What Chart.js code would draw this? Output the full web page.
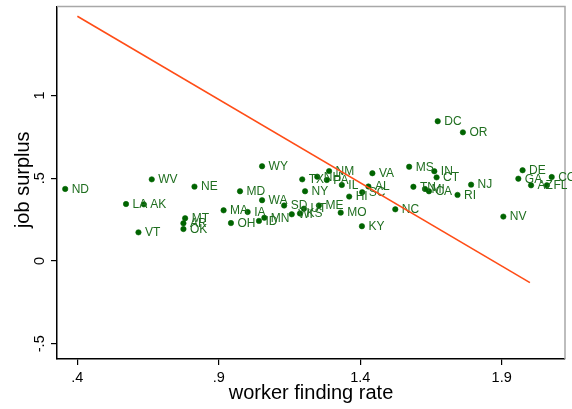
<!DOCTYPE html>
<html><head><meta charset="utf-8">
<script src="https://cdn.jsdelivr.net/npm/chart.js@4.4.0/dist/chart.umd.min.js"></script>
<style>html,body{margin:0;padding:0;background:#fff;}#wrap{width:572px;height:409px;}</style>
</head><body><div id="wrap"><canvas id="c" width="572" height="409"></canvas></div>
<script>
const states  = ['ND','WV','NE','LA','AK','VT','MT','AR','OK','MA','OH','WY','MD','WA','IA','ID','MN','SD','WI','KS','UT','ME','MO','TX','NH','PA','NM','IL','NY','HI','KY','SC','AL','VA','DC','OR','MS','IN','CT','TN','MI','CA','RI','NJ','NC','NV','DE','GA','CO','AZ','FL'];
const finding = [0.357,0.663,0.814,0.572,0.635,0.616,0.781,0.775,0.775,0.917,0.943,1.053,0.975,1.053,1.002,1.042,1.061,1.131,1.158,1.187,1.201,1.254,1.331,1.195,1.248,1.282,1.290,1.335,1.205,1.361,1.406,1.407,1.429,1.443,1.674,1.763,1.573,1.662,1.670,1.588,1.629,1.643,1.744,1.792,1.524,1.906,1.974,1.959,2.077,2.004,2.060];
const surplus = [0.435,0.493,0.449,0.344,0.342,0.173,0.258,0.228,0.193,0.306,0.229,0.572,0.421,0.367,0.296,0.242,0.261,0.335,0.282,0.287,0.316,0.335,0.292,0.493,0.509,0.489,0.543,0.459,0.421,0.389,0.210,0.415,0.450,0.530,0.844,0.777,0.569,0.542,0.505,0.448,0.435,0.421,0.399,0.461,0.312,0.268,0.548,0.497,0.507,0.457,0.457];
const fitX = [0.4, 2.0];
const fitY = [1.478, -0.131];
const xTicks = [0.4, 0.9, 1.4, 1.9];
const xTickLabels = ['.4', '.9', '1.4', '1.9'];
const yTicks = [-0.5, 0, 0.5, 1];
const yTickLabels = ['-.5', '0', '.5', '1'];
const xTitle = 'worker finding rate';
const yTitle = 'job surplus';

const FONT = '"Liberation Sans", Arial, Helvetica, sans-serif';
const dotColor = '#006400';
const labelColor = '#1f6e1f';

const textPlugin = {
  id: 'texts',
  beforeDatasetsDraw(chart) {
    const ctx = chart.ctx, a = chart.chartArea;
    ctx.save();
    ctx.strokeStyle = '#a8a8a8';
    ctx.lineWidth = 1.5;
    ctx.beginPath();
    ctx.moveTo(a.left, a.top);
    ctx.lineTo(a.right, a.top);
    ctx.lineTo(a.right, a.bottom);
    ctx.stroke();
    ctx.restore();
  },
  afterDatasetDraw(chart, args) {
    if (args.index !== 0) return;
    const ctx = chart.ctx;
    ctx.save();
    ctx.font = '12px ' + FONT;
    ctx.fillStyle = labelColor;
    ctx.textAlign = 'left';
    ctx.textBaseline = 'middle';
    args.meta.data.forEach((pt, i) => ctx.fillText(states[i], pt.x + 6.5, pt.y + 0.5));
    ctx.restore();
  },
  afterDraw(chart) {
    const ctx = chart.ctx, a = chart.chartArea;
    const xs = chart.scales.x, ys = chart.scales.y;
    ctx.save();
    ctx.fillStyle = '#000';
    ctx.font = '14.5px ' + FONT;
    ctx.textAlign = 'center';
    ctx.textBaseline = 'alphabetic';
    xTicks.forEach((v, i) => ctx.fillText(xTickLabels[i], xs.getPixelForValue(v), 382));
    yTicks.forEach((v, i) => {
      ctx.save();
      ctx.translate(44, ys.getPixelForValue(v));
      ctx.rotate(-Math.PI / 2);
      ctx.fillText(yTickLabels[i], 0, 0);
      ctx.restore();
    });
    ctx.font = '20px ' + FONT;
    ctx.fillText(xTitle, (a.left + a.right) / 2, 399);
    ctx.save();
    ctx.translate(29, (a.top + a.bottom) / 2 - 3);
    ctx.rotate(-Math.PI / 2);
    ctx.fillText(yTitle, 0, 0);
    ctx.restore();
    ctx.restore();
  }
};

new Chart(document.getElementById('c'), {
  type: 'scatter',
  data: {
    datasets: [
      {
        data: finding.map((x, i) => ({x: x, y: surplus[i]})),
        backgroundColor: dotColor, borderColor: dotColor,
        pointRadius: 2.7, pointBorderWidth: 0.6, order: 2
      },
      {
        data: fitX.map((x, i) => ({x: x, y: fitY[i]})),
        showLine: true, borderColor: '#ff4d17', borderWidth: 1.6,
        pointRadius: 0, tension: 0, order: 1
      }
    ]
  },
  options: {
    responsive: false, devicePixelRatio: 1, animation: false,
    layout: {padding: {left: 0, right: 7, top: 6.5, bottom: 0}},
    plugins: {legend: {display: false}, tooltip: {enabled: false}},
    scales: {
      x: {
        type: 'linear', min: 0.328, max: 2.124,
        afterBuildTicks: s => { s.ticks = xTicks.map(v => ({value: v})); },
        afterFit: s => { s.height = 50; },
        ticks: {display: false},
        grid: {drawOnChartArea: false, drawTicks: true, tickLength: 6, color: '#000', lineWidth: 1.2},
        border: {display: true, color: '#000', width: 1.5}
      },
      y: {
        type: 'linear', min: -0.592, max: 1.537,
        afterBuildTicks: s => { s.ticks = yTicks.map(v => ({value: v})); },
        afterFit: s => { s.width = 57; },
        ticks: {display: false},
        grid: {drawOnChartArea: false, drawTicks: true, tickLength: 6, color: '#000', lineWidth: 1.2},
        border: {display: true, color: '#000', width: 1.5}
      }
    }
  },
  plugins: [textPlugin]
});
</script>
</body></html>
